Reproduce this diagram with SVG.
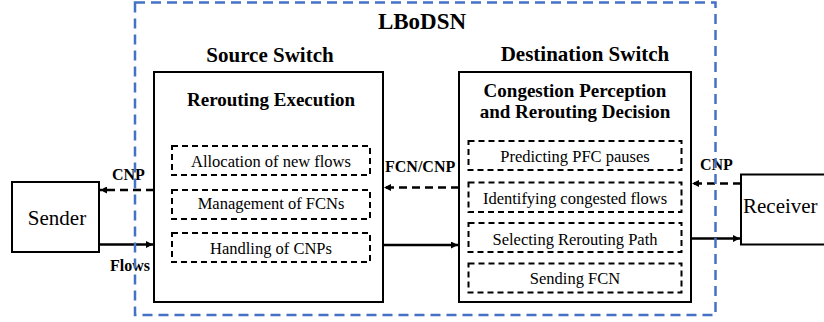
<svg xmlns="http://www.w3.org/2000/svg" width="824" height="322" viewBox="0 0 824 322">
<style>
.box{fill:#fff;stroke:#000;stroke-width:2}
.sub{fill:none;stroke:#000;stroke-width:2;stroke-dasharray:6 4}
.t{font-family:"Liberation Serif","Times New Roman",serif;fill:#000}
.b{font-weight:bold}
.st{font-size:16.5px;text-anchor:middle}
.ln{stroke:#000;stroke-width:2.5;fill:none}
.dl{stroke-dasharray:8 5}
</style>
<defs>
<marker id="ah" viewBox="0 0 10 10" refX="10" refY="5" markerWidth="3.4" markerHeight="2.8" orient="auto" markerUnits="strokeWidth">
<path d="M0,0 L10,5 L0,10 Z" fill="#000"/>
</marker>
</defs>
<rect width="824" height="322" fill="#fff"/>

<g id="sender">
<rect class="box" x="12" y="182" width="87" height="70"/>
<text class="t" x="57" y="225" font-size="21" text-anchor="middle">Sender</text>
</g>

<g id="receiver">
<rect class="box" x="741" y="174.5" width="100" height="70"/>
<text class="t" x="743" y="213" font-size="21">Receiver</text>
</g>

<g id="source-switch">
<text class="t b" x="270" y="62" font-size="21" text-anchor="middle">Source Switch</text>
<rect class="box" x="154" y="72" width="229" height="230"/>
<text class="t b" x="271" y="106" font-size="19" text-anchor="middle">Rerouting Execution</text>
<g id="alloc"><rect class="sub" x="172" y="146" width="198" height="29"/><text class="t st" x="271" y="166.5">Allocation of new flows</text></g>
<g id="mgmt"><rect class="sub" x="172" y="190" width="198" height="29"/><text class="t st" x="271" y="209">Management of FCNs</text></g>
<g id="handling"><rect class="sub" x="172" y="233" width="198" height="29"/><text class="t st" x="271" y="253.5">Handling of CNPs</text></g>
</g>

<g id="destination-switch">
<text class="t b" x="585" y="61" font-size="21" text-anchor="middle">Destination Switch</text>
<rect class="box" x="459" y="72" width="232" height="230"/>
<text class="t b" x="575" y="97" font-size="19" text-anchor="middle">Congestion Perception</text>
<text class="t b" x="575" y="118" font-size="19" text-anchor="middle">and Rerouting Decision</text>
<g id="predict"><rect class="sub" x="468.5" y="141" width="213" height="29"/><text class="t st" x="575" y="161.5">Predicting PFC pauses</text></g>
<g id="identify"><rect class="sub" x="468.5" y="182.5" width="213" height="29.5"/><text class="t st" x="575" y="203.5">Identifying congested flows</text></g>
<g id="select"><rect class="sub" x="468.5" y="223" width="213" height="29"/><text class="t st" x="575" y="244.5">Selecting Rerouting Path</text></g>
<g id="sendfcn"><rect class="sub" x="468.5" y="263.5" width="213" height="29"/><text class="t st" x="575" y="283.5">Sending FCN</text></g>
</g>

<g id="connectors">
<line class="ln dl" x1="154" y1="190" x2="100" y2="190" marker-end="url(#ah)"/>
<line class="ln" x1="99" y1="244.5" x2="153" y2="244.5" marker-end="url(#ah)"/>
<line class="ln dl" x1="459" y1="187.5" x2="384" y2="187.5" marker-end="url(#ah)"/>
<line class="ln" x1="383" y1="245" x2="458" y2="245" marker-end="url(#ah)"/>
<line class="ln dl" x1="741" y1="183.5" x2="692" y2="183.5" marker-end="url(#ah)"/>
<line class="ln" x1="691" y1="238.5" x2="740" y2="238.5" marker-end="url(#ah)"/>
<text class="t b" x="112" y="180" font-size="16">CNP</text>
<text class="t b" x="110" y="271" font-size="16">Flows</text>
<text class="t b" x="385" y="171.5" font-size="16">FCN/CNP</text>
<text class="t b" x="700" y="170" font-size="16">CNP</text>
</g>

<g id="lbodsn">
<rect x="135" y="2.5" width="580.5" height="312.5" fill="none" stroke="#4472C4" stroke-width="2.5" stroke-dasharray="10 6"/>
<text class="t b" x="422" y="29" font-size="23" text-anchor="middle">LBoDSN</text>
</g>
</svg>
